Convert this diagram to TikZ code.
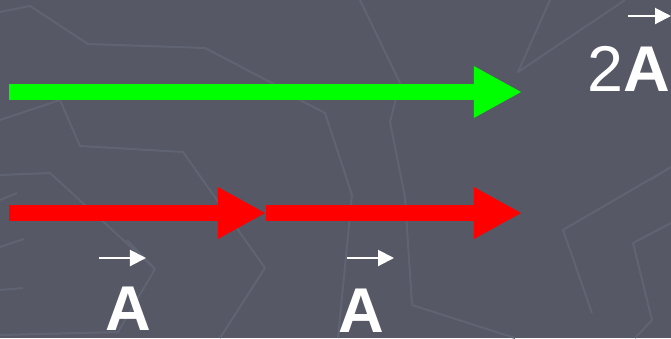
\documentclass[tikz,border=0pt]{standalone}
\usepackage{fontspec}
\setmainfont{Liberation Sans}
\usetikzlibrary{arrows.meta}

\definecolor{slidebg}{RGB}{86,88,102}
\definecolor{slideline}{RGB}{96,99,113}
\definecolor{vecgreen}{RGB}{0,255,0}
\definecolor{vecred}{RGB}{255,0,0}

\tikzset{
  bigvec/.style={line width=0.4cm, -{Triangle[length=1.2cm, width=1.2cm]}},
  smallvec/.style={white, line width=0.05cm, -{Triangle[length=0.4cm, width=0.4cm]}},
  veclabel/.style={white, inner sep=0pt, anchor=base, font=\fontsize{45pt}{50pt}\selectfont},
  bgline/.style={slideline, line width=0.05cm, line join=round}
}

\begin{document}
\begin{tikzpicture}[x=0.025cm, y=-0.025cm]
	% background
	\fill[slidebg] (0,0) rectangle (671,338);
	\useasboundingbox (0,0) rectangle (671,338);
	\begin{scope}
	\clip (0,0) rectangle (671,338);
	\draw[bgline] (0,12) -- (30,6) -- (88,44) -- (205,48) -- (272,83) -- (300,100) -- (325,113) -- (352,195) -- (338,338);
	\draw[bgline] (0,120) -- (60,100) -- (80,146) -- (183,152) -- (265,268) -- (220,338);
	\draw[bgline] (0,175) -- (50,173) -- (155,269) -- (118,332) -- (0,335);
	\draw[bgline] (127,240) -- (155,269);
	\draw[bgline] (0,200) -- (17,193);
	\draw[bgline] (0,247) -- (24,239);
	\draw[bgline] (0,290) -- (23,288);
	\draw[bgline] (360,0) -- (400,83) -- (390,122) -- (405,197) -- (412,305) -- (515,338);
	\draw[bgline] (550,0) -- (518,72) -- (625,0);
	\draw[bgline] (592,313) -- (563,230) -- (671,167);
	\draw[bgline] (671,223) -- (633,243) -- (652,320) -- (635,338);
	\draw[bgline] (650,180) -- (671,167);
	\end{scope}

	% big vectors
	\coordinate (g0) at (9,92);
	\coordinate (g1) at (522,92);
	\coordinate (r0) at (9,213);
	\coordinate (r1) at (266,213);
	\coordinate (r2) at (522,213);
	\draw[bigvec, vecgreen] (g0) -- (g1);
	\draw[bigvec, vecred] (r0) -- (r1);
	\draw[bigvec, vecred] (r1) -- (r2);

	% labels
	\node[veclabel] (a1) at (128,330) {\bfseries A};
	\node[veclabel] (a2) at (361,332) {\bfseries A};
	\node[veclabel, font=\fontsize{46pt}{50pt}\selectfont] (a3) at (629,91) {2\textbf{A}};

	\coordinate (v1s) at (99,258);
	\coordinate (v1e) at (146,258);
	\coordinate (v2s) at (347,258);
	\coordinate (v2e) at (394,258);
	\coordinate (v3s) at (628,16);
	\coordinate (v3e) at (671,16);
	\foreach \s/\e in {v1s/v1e, v2s/v2e, v3s/v3e}
		\draw[smallvec] (\s) -- (\e);

\end{tikzpicture}
\end{document}
